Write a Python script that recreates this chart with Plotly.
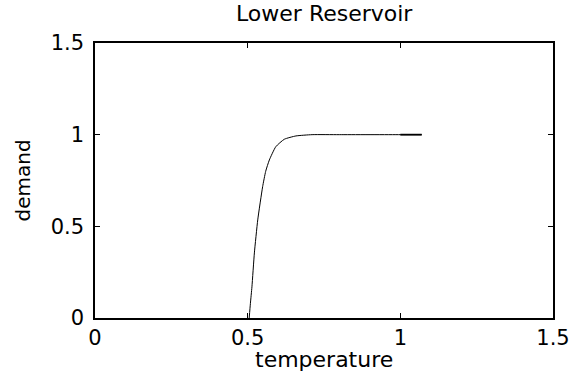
import plotly.graph_objects as go

# data
temp = [0.505, 0.509, 0.514, 0.522, 0.533, 0.549, 0.559, 0.571, 0.592, 0.62, 0.658, 0.711, 0.8, 1.0, 1.07]
demand = [0.0, 0.08, 0.17, 0.355, 0.535, 0.716, 0.80, 0.862, 0.934, 0.975, 0.993, 1.0, 1.0, 1.0, 1.0]
seg_temp = [1.0, 1.07]
seg_demand = [1.0, 1.0]

xticks = [0, 0.5, 1, 1.5]
xtick_text = ["0", "0.5", "1", "1.5"]
yticks = [0, 0.5, 1, 1.5]
ytick_text = ["0", "0.5", "1", "1.5"]

title = "Lower Reservoir"
xlabel = "temperature"
ylabel = "demand"

FONT = "DejaVu Sans"

fig = go.Figure()
fig.add_trace(go.Scatter(x=temp, y=demand, mode="lines", line_shape="spline",
                         line=dict(color="black", width=1, smoothing=0.5), showlegend=False))
fig.add_trace(go.Scatter(x=seg_temp, y=seg_demand, mode="lines",
                         line=dict(color="black", width=1.8), showlegend=False))

axis_common = dict(showgrid=False, zeroline=False, showline=True, linecolor="black",
                   linewidth=1.5, mirror="ticks", ticks="inside", ticklen=5,
                   tickcolor="black", tickwidth=1,
                   tickfont=dict(family=FONT, size=21, color="black"))

fig.update_xaxes(range=[0, 1.5], tickvals=xticks, ticktext=xtick_text,
                 ticklabelstandoff=0, **axis_common)
fig.update_yaxes(range=[0, 1.5], tickvals=yticks, ticktext=ytick_text,
                 ticklabelstandoff=5, **axis_common)

fig.update_layout(
    width=582, height=381,
    margin=dict(l=95, r=27, t=43, b=63),
    paper_bgcolor="white", plot_bgcolor="white",
    annotations=[
        dict(text=title, xref="paper", yref="paper", x=0.5, y=1, xanchor="center",
             yanchor="bottom", yshift=15, showarrow=False,
             font=dict(family=FONT, size=22, color="black")),
        dict(text=xlabel, xref="paper", yref="paper", x=0.5, y=0, xanchor="center",
             yanchor="top", yshift=-27, showarrow=False,
             font=dict(family=FONT, size=22, color="black")),
        dict(text=ylabel, xref="paper", yref="paper", x=0, y=0.5, xanchor="center",
             yanchor="middle", xshift=-73, textangle=-90, showarrow=False,
             font=dict(family=FONT, size=20, color="black")),
    ],
)

fig.write_html("out.html")
